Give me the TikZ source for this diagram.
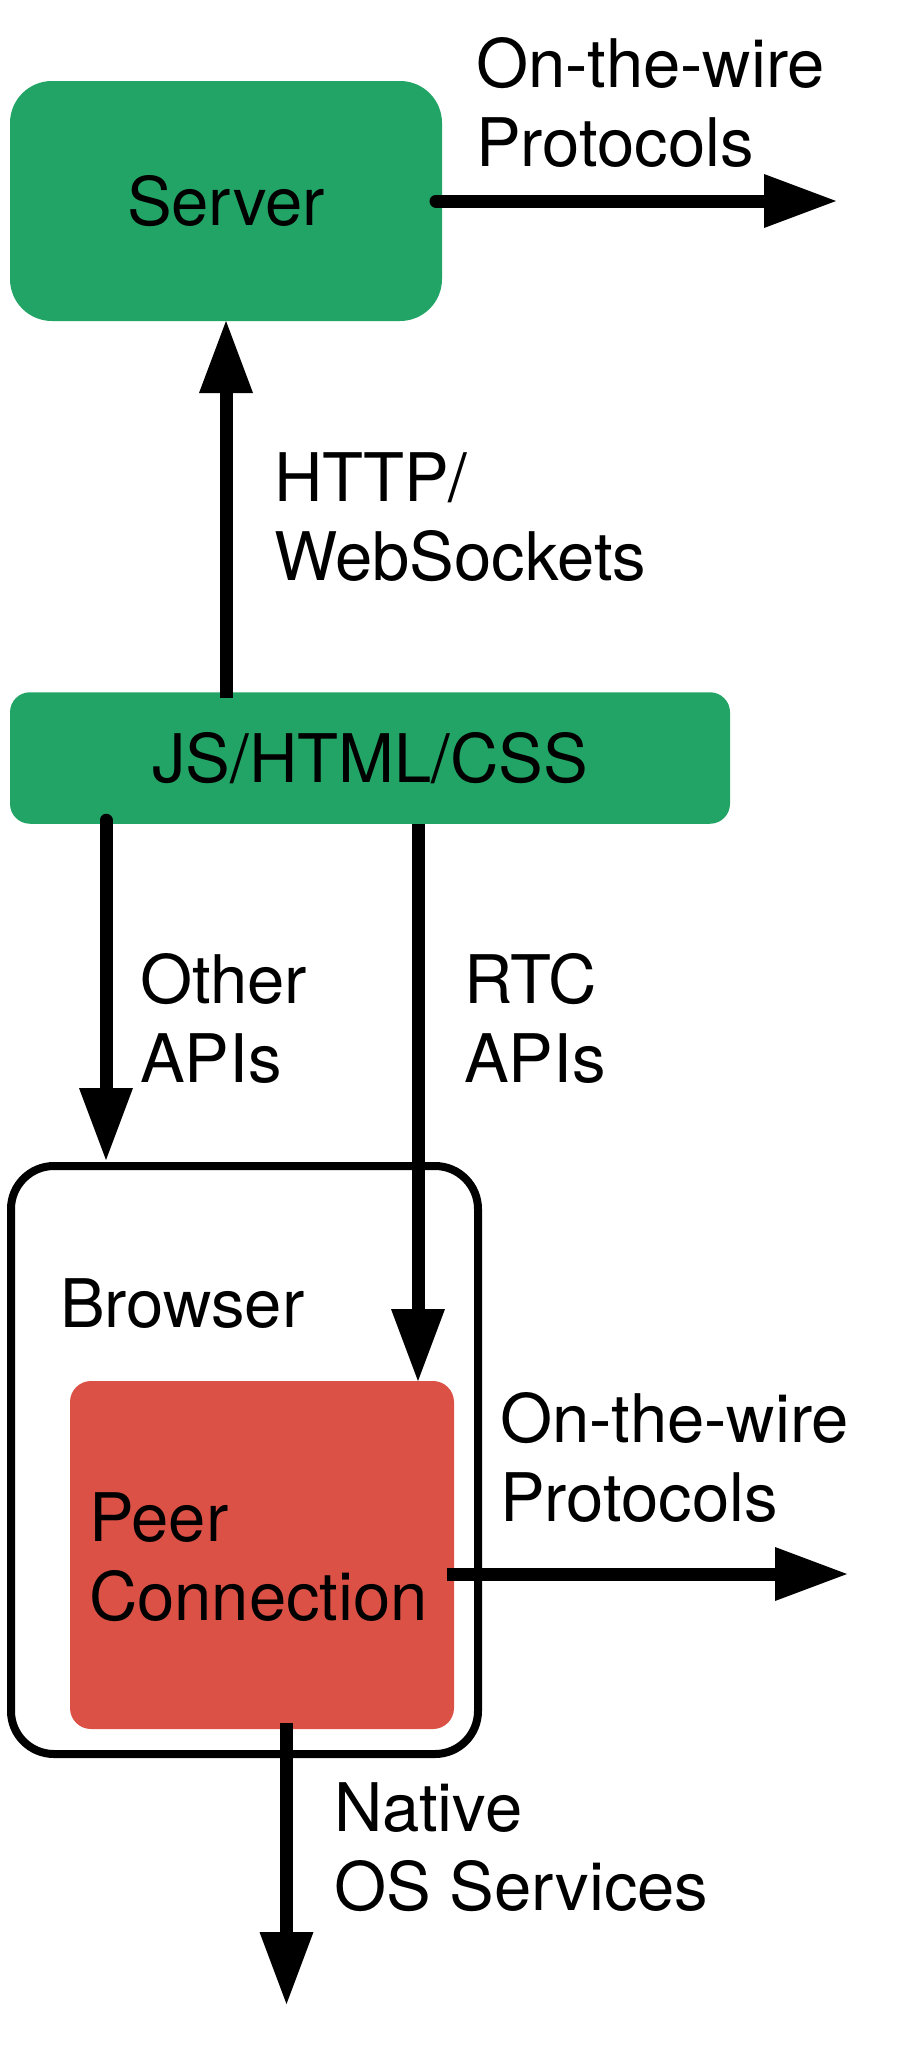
\documentclass[tikz,border=0pt]{standalone}
\usepackage{fontspec}
\setmainfont{TeX Gyre Heros}
\usepackage{tikz}
\usepackage{xcolor}
\usetikzlibrary{arrows.meta, positioning, calc}

\definecolor{webgreen}{RGB}{33,164,101}
\definecolor{peerred}{RGB}{220,81,69}

\begin{document}
\begin{tikzpicture}[
    x=1pt, y=-1pt,
    txt/.style={font=\fontsize{67}{79}\selectfont, inner sep=0pt, outer sep=0pt},
    lbl/.style={txt, align=left, anchor=base west},
    box/.style={txt, outer sep=0pt, align=center},
    arr/.style={line width=13pt, -{Triangle[length=72pt, width=54pt, line width=0pt]}}
]
  \useasboundingbox (0,0) rectangle (905,2061);

  % Top row (server and page)
  \node[box, fill=webgreen, rounded corners=42pt, minimum width=432pt, minimum height=240pt] (server) at (226,201) {Server};
  \node[box, fill=webgreen, rounded corners=20pt, minimum width=720pt, minimum height=131.5pt] (js) at (370,758) {JS/HTML/CSS};

  % Browser with the peer connection inside
  \node[box, draw, line width=8pt, rounded corners=43pt, minimum width=467pt, minimum height=588pt] (browser) at (244.5,1460) {};
  \node[box, fill=peerred, rounded corners=21pt, minimum width=384pt, minimum height=348pt] (peer) at (262,1555) {};
  \node[lbl] (browsertxt) at (60,1327) {Browser};
  \node[lbl] (peertxt) at (89,1620) {Peer\\Connection};

  % Free ends of the outgoing arrows
  \coordinate (wireA) at (836,201);
  \coordinate (wireB) at (847,1574);
  \coordinate (native) at (286.5,2004);

  % Connectors
  \draw[arr, line cap=round] ([xshift=-6pt]server.east) -- (wireA);
  \draw[arr] ([yshift=-6pt]js.north -| server.south) -- (server.south);
  \draw[arr, line cap=round] ([xshift=96pt,yshift=3.5pt]js.south west) -- ([xshift=95pt,yshift=6pt]browser.north west);
  \draw[arr] ([xshift=348pt]peer.north west |- js.south) -- ([xshift=348pt]peer.north west);
  \draw[arr] ([xshift=-7pt,yshift=-19pt]peer.east) -- (wireB);
  \draw[arr] ([xshift=24.5pt,yshift=6pt]peer.south) -- (native);

  % Connector labels (anchored at the last line)
  \node[lbl] (wireAtxt) at (476,166) {On-the-wire\\Protocols};
  \node[lbl] (httptxt) at (274,580) {HTTP/\\WebSockets};
  \node[lbl] (othertxt) at (140,1082) {Other\\APIs};
  \node[lbl] (rtctxt) at (464,1082) {RTC\\APIs};
  \node[lbl] (wireBtxt) at (500,1521) {On-the-wire\\Protocols};
  \node[lbl] (nativetxt) at (334,1910) {Native\\OS Services};

\end{tikzpicture}
\end{document}
